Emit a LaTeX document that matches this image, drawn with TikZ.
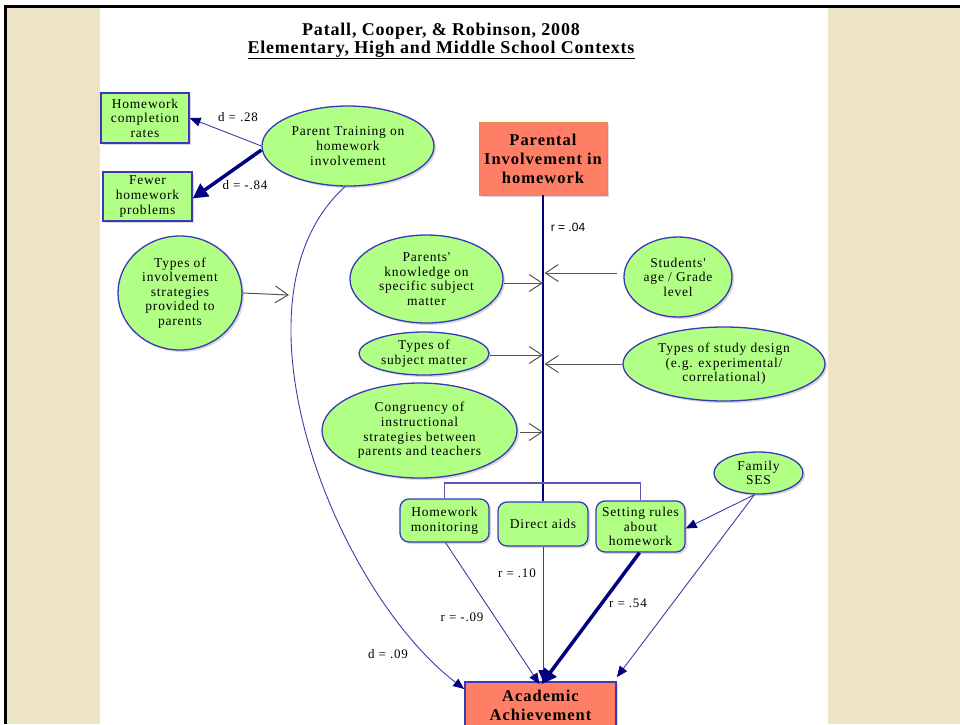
\documentclass[tikz,border=0pt]{standalone}
\usepackage{fontspec}
\setmainfont{Liberation Serif}
\newfontfamily\nf[LetterSpace=6]{Liberation Serif}
\newfontfamily\tf[LetterSpace=4.5]{Liberation Serif}
\newfontfamily\lsans{Liberation Sans}
\usetikzlibrary{shapes.geometric,arrows.meta,shadows}

\definecolor{paper}{HTML}{EDE4C5}
\definecolor{leaf}{HTML}{B2FF86}
\definecolor{rim}{HTML}{3A3AB8}
\definecolor{salmon}{HTML}{FF7F66}
\definecolor{salmonrim}{HTML}{E8873C}
\definecolor{navy}{HTML}{000080}
\definecolor{thinblue}{HTML}{3C3CA8}
\definecolor{barb}{HTML}{555555}

\tikzset{
  shade/.style={drop shadow={shadow xshift=2pt,shadow yshift=-2pt,opacity=0.3}},
  txt/.style={font=\nf\fontsize{13.5}{14.6}\selectfont},
  oval/.style={ellipse, draw=rim, line width=1.3pt, fill=leaf, inner sep=0pt,
    align=center, txt, shade},
  greenbox/.style={rectangle, draw=rim, line width=1.3pt, fill=leaf, inner sep=0pt,
    align=center, txt, shade},
  roundbox/.style={greenbox, rounded corners=9pt},
  hotbox/.style={rectangle, fill=salmon, inner sep=0pt, align=center, shade,
    font=\nf\bfseries\fontsize{16.5}{19}\selectfont},
  lbl/.style={font=\nf\fontsize{13}{14}\selectfont, inner sep=0pt},
  thinarrow/.style={draw=thinblue, line width=0.9pt,
    -{Triangle[length=11pt,width=9pt,color=navy]}},
  thickarrow/.style={draw=navy, line width=3.5pt,
    -{Triangle[length=15pt,width=15pt]}},
  greyarrow/.style={draw=barb, line width=1pt,
    -{Straight Barb[length=13pt,width=17pt,line width=1pt]}},
  bracketline/.style={draw=thinblue!85, line width=1.4pt},
  spine/.style={draw=navy, line width=2.8pt},
  heading/.style={font=\tf\bfseries\fontsize{18}{20}\selectfont, inner sep=0pt}
}

\begin{document}
\begin{tikzpicture}[x=1pt,y=-1pt]
\useasboundingbox (0,0) rectangle (960,724);
\clip (0,0) rectangle (960,724);

% slide background: paper margins, white sheet, black frame edge
\fill[white] (0,0) rectangle (960,724);
\fill[paper] (6,8) rectangle (100,724);
\fill[paper] (828,8) rectangle (960,724);
\fill[black] (4,5) rectangle (960,8);
\fill[black] (4,5) rectangle (6.5,724);

% title
\node[heading] (title1) at (441,31) {Patall, Cooper, \& Robinson, 2008};
\node[heading] (title2) at (441,50)
  {\underline{Elementary, High and Middle School Contexts}};

% outcome boxes on the left
\node[greenbox, minimum width=88pt, minimum height=50pt] (hcr) at (145,118)
  {Homework\\completion\\rates};
\node[greenbox, minimum width=89pt, minimum height=49pt] (fhp) at (147.5,196.5)
  {Fewer\\homework\\problems};

% ellipses
\node[oval, minimum width=172pt, minimum height=80pt] (pt) at (348,146)
  {Parent Training on\\homework\\involvement};
\node[oval, minimum width=124pt, minimum height=114pt] (tis) at (180,293)
  {Types of\\involvement\\strategies\\provided to\\parents};
\node[oval, minimum width=153pt, minimum height=88pt] (pk) at (426.5,279)
  {Parents'\\knowledge on\\specific subject\\matter};
\node[oval, minimum width=130pt, minimum height=43pt] (tsm) at (424,353.5)
  {Types of\\subject matter};
\node[oval, minimum width=195pt, minimum height=95pt] (cis) at (419.5,430.5)
  {Congruency of\\instructional\\strategies between\\parents and teachers};
\node[oval, minimum width=108pt, minimum height=80pt] (sag) at (678,277)
  {Students'\\age / Grade\\level};
\node[oval, minimum width=202pt, minimum height=74pt] (tsd) at (724,364)
  {Types of study design\\(e.g. experimental/\\correlational)};
\node[oval, minimum width=89pt, minimum height=42pt] (ses) at (758.5,473)
  {Family\\SES};

% main construct and outcome
\node[hotbox, draw=salmonrim, line width=0.8pt, minimum width=128pt, minimum height=73pt]
  (pih) at (543,158.5) {Parental\\Involvement in\\homework};
\node[hotbox, draw=rim, line width=1.6pt, minimum width=151pt, minimum height=46pt]
  (aa) at (540.5,705) {Academic\\Achievement};

% forms of involvement
\node[roundbox, minimum width=89pt, minimum height=43pt] (hm) at (444.5,520.5)
  {Homework\\monitoring};
\node[roundbox, minimum width=90pt, minimum height=44pt] (da) at (543,524)
  {Direct aids};
\node[roundbox, minimum width=89pt, minimum height=51pt] (sr) at (640.5,526.5)
  {Setting rules\\about\\homework};

% points on the spine where moderators attach
\coordinate (bar) at (543,483);
\coordinate (m1) at (543,283);
\coordinate (m2) at (544.5,273);
\coordinate (m3) at (543,355);
\coordinate (m4) at (544.5,364);
\coordinate (m5) at (543,432);
\coordinate (cv) at (289,295);

% spine and bracket
\draw[spine] (pih.south) -- (da.north);
\draw[bracketline] (hm.north) |- (bar) -| (sr.north);

% parent training effects
\draw[thinarrow] (pt.west) -- (hcr.east);
\draw[thickarrow] ([yshift=-4pt]pt.west) -- ([yshift=-2pt]fhp.east);
\draw[thinarrow] ([xshift=-3pt]pt.south) .. controls (220,300) and (335,590) .. ([yshift=16pt]aa.west);

% moderators
\draw[greyarrow] (tis.east) -- (cv);
\draw[greyarrow] (pk.east |- m1) -- (m1);
\draw[greyarrow] ([xshift=-6pt]sag.west |- m2) -- (m2);
\draw[greyarrow] (tsm.east |- m3) -- (m3);
\draw[greyarrow] (tsd.west |- m4) -- (m4);
\draw[greyarrow] ([xshift=2pt]cis.east |- m5) -- (m5);

% links to achievement
\draw[thinarrow] ([xshift=1pt]hm.south) -- ([xshift=-1pt,yshift=-3pt]aa.north);
\draw[thinarrow] (da.south) -- ([xshift=2.5pt]aa.north);
\draw[thickarrow] ([xshift=-1pt]sr.south) -- ([xshift=1pt,yshift=-3pt]aa.north);
\draw[thinarrow] ([xshift=-4pt]ses.south) -- ([yshift=-2pt]sr.east);
\draw[thinarrow] ([xshift=-4pt]ses.south) -- ([yshift=4pt]aa.north east);

% effect sizes
\node[lbl] (l1) at (238,117) {d = .28};
\node[lbl] (l2) at (245,185) {d = -.84};
\node[lbl, font=\lsans\fontsize{12}{13}\selectfont] (l3) at (568,227) {r = .04};
\node[lbl] (l4) at (517,573) {r = .10};
\node[lbl] (l5) at (462,617) {r = -.09};
\node[lbl] (l6) at (628,603) {r = .54};
\node[lbl] (l7) at (388,654) {d = .09};
\end{tikzpicture}
\end{document}
